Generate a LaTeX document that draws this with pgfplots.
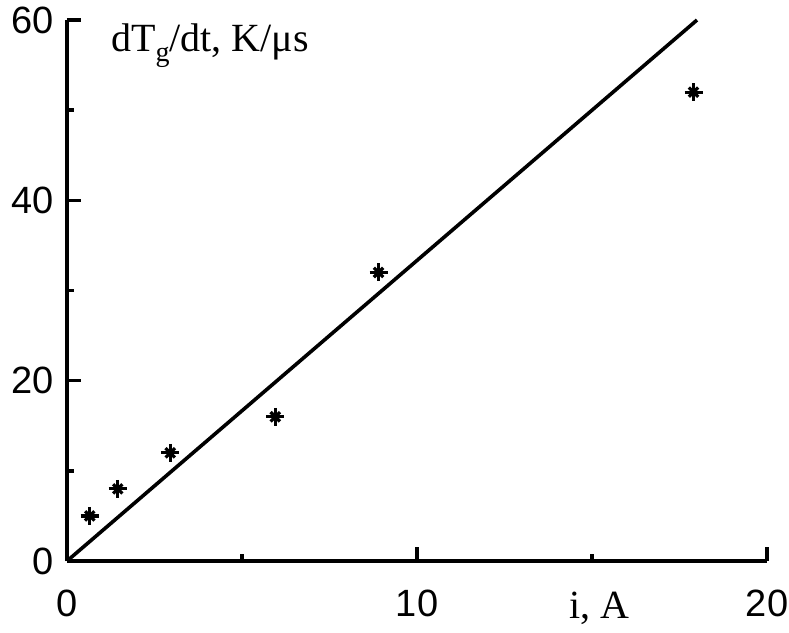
\documentclass[border=0pt]{standalone}
\usepackage{fontspec}
\setmainfont{Liberation Serif}
\newfontfamily\tickfont{Liberation Sans}
\usepackage{pgfplots}
\pgfplotsset{compat=1.18}
\begin{document}
\begin{tikzpicture}
\begin{axis}[
  scale only axis,
  width=350pt, height=270.5pt,
  xmin=0, xmax=20, ymin=0, ymax=60,
  axis x line*=bottom, axis y line*=left,
  axis line style={-, line width=1.8pt},
  every tick/.style={black, line width=1.8pt},
  tick align=inside,
  major tick length=7pt, minor tick length=3.5pt,
  xtick={0,10,20}, minor xtick={5,15},
  ytick={0,20,40,60}, minor ytick={10,30,50},
  /pgf/number format/assume math mode=true,
  ticklabel style={font=\tickfont\fontsize{19}{22}\selectfont},
  xticklabel style={yshift=-11pt},
  yticklabel style={xshift=-3pt},
  clip=false,
]
\addplot[black, line width=1.8pt] coordinates {(0,0) (18,60)};
\addplot[only marks, mark=+, mark size=4.5pt, mark options={line width=1.6pt, black}] coordinates {
(0.65,5) (1.45,8) (2.95,12) (5.95,16) (8.9,32) (17.9,52)};
\addplot[only marks, mark=x, mark size=3.3pt, mark options={line width=1.6pt, black}] coordinates {
(0.65,5) (1.45,8) (2.95,12) (5.95,16) (8.9,32) (17.9,52)};
\node[anchor=west, font=\fontsize{20}{24}\selectfont] at (rel axis cs:0.053,0.953) {dT\raisebox{-0.55ex}{\fontsize{14}{16}\selectfont g}/dt, K/μs};
\node[font=\fontsize{20}{24}\selectfont] at (rel axis cs:0.761,-0.087) {i, A};
\coordinate (bl) at (rel axis cs:-0.0957,-0.1312);
\coordinate (tr) at (rel axis cs:1.0314,1.037);
\end{axis}
\pgfresetboundingbox
\path (bl) rectangle (tr);
\end{tikzpicture}
\end{document}
